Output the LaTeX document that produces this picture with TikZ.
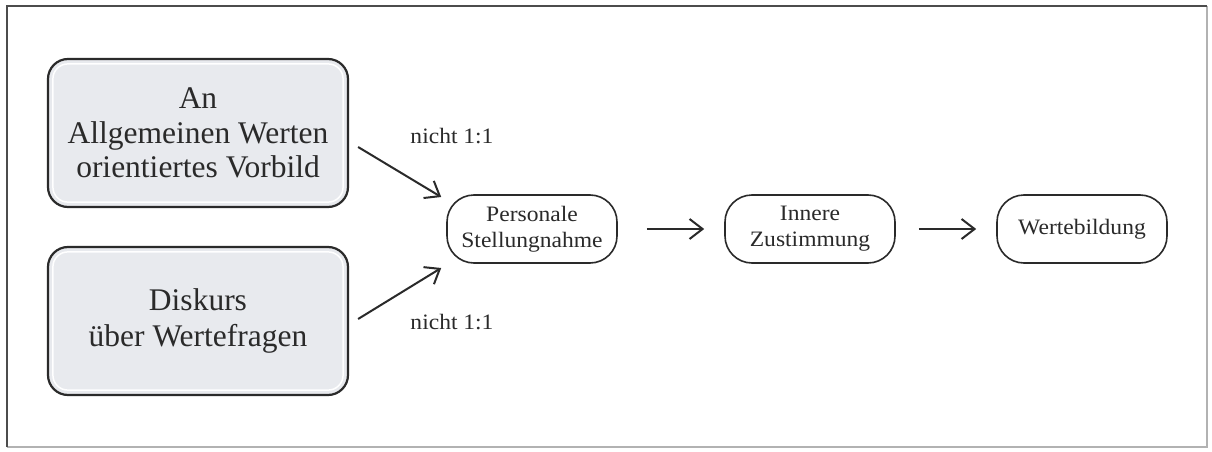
\documentclass[tikz,border=0pt]{standalone}
\usepackage{fontspec}
\setmainfont{Liberation Serif}
\newfontfamily\widefont[FakeStretch=1.07]{Liberation Serif}
\usetikzlibrary{arrows.meta,calc}
\definecolor{boxfill}{HTML}{E8EAEE}
\definecolor{ink}{HTML}{2A2A2A}
\tikzset{
  bigbox/.style={draw=ink, line width=2.2pt, fill=boxfill, rounded corners=20pt,
    minimum width=300pt, minimum height=148pt, align=center, text=ink,
    font=\fontsize{31.5}{34.5}\selectfont},
  pill/.style={draw=ink, line width=1.6pt, rounded corners=27pt,
    minimum width=170pt, minimum height=68pt, align=center, text=ink,
    font=\widefont\fontsize{22}{26}\selectfont},
  flow/.style={draw=ink, line width=2pt, -{Straight Barb[length=13pt,width=20pt,line width=2pt]}},
  lbl/.style={text=ink, font=\widefont\fontsize{22}{26}\selectfont},
  innerring/.style={white, line width=1.5pt, rounded corners=15pt},
}
\begin{document}
\begin{tikzpicture}[x=1pt,y=-1pt]
\useasboundingbox (0,0) rectangle (1212,452);
\fill[white] (0,0) rectangle (1212,452);
% frame
\draw[line width=1.2pt, black!30] (7,447) -- (1207,447) -- (1207,6);
\draw[line width=2pt, black!70] (7,447) -- (7,6) -- (1207,6);
% nodes
\node[bigbox] (A) at (198,133) {An\\Allgemeinen Werten\\orientiertes Vorbild};
\node[bigbox] (B) at (198,321) {Diskurs\\[2pt]über Wertefragen};
\draw[innerring] ($(A.south west)+(6,-6)$) rectangle ($(A.north east)+(-6,6)$);
\draw[innerring] ($(B.south west)+(6,-6)$) rectangle ($(B.north east)+(-6,6)$);
\node[pill] (P) at (532,229) {Personale\\Stellungnahme};
\node[pill] (I) at (810,229) {Innere\\Zustimmung};
\node[pill] (W) at (1082,229) {Wertebildung};
% labels
\node[lbl] (L1) at (452,136) {nicht 1:1};
\node[lbl] (L2) at (452,322) {nicht 1:1};
% connectors
\draw[flow] ($(A.east)+(9,14)$) -- ($(P.west)+(-5,-32)$);
\draw[flow] ($(B.east)+(9,-2)$) -- ($(P.west)+(-5,39)$);
\draw[flow, shorten <=29pt, shorten >=20pt] (P.east) -- (I.west);
\draw[flow, shorten <=23pt, shorten >=20pt] (I.east) -- (W.west);
\end{tikzpicture}
\end{document}
